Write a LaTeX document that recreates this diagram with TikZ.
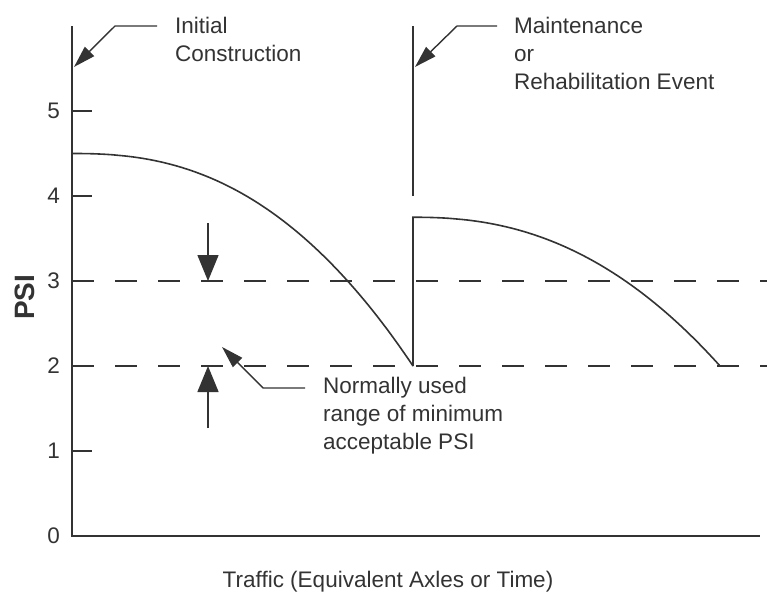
\documentclass[tikz,border=0pt]{standalone}
\usepackage{fontspec}
\setmainfont{Liberation Sans}
\usetikzlibrary{arrows.meta,positioning}
\definecolor{ink}{HTML}{333333}

\tikzset{
  psiaxis/.style={draw=ink,line width=2pt},
  psicurve/.style={draw=ink,line width=1.6pt},
  limitline/.style={draw=ink,line width=1.6pt,dash pattern=on 22pt off 21pt},
  pointer/.style={draw=ink,line width=1.4pt,-{Triangle[length=22pt,width=13pt]}},
  rangearrow/.style={draw=ink,line width=1.5pt,-{Triangle[length=26pt,width=21pt]}},
  notebox/.style={text=ink,font=\fontsize{22.5}{28}\selectfont,inner sep=0pt,align=left,anchor=north west}
}

\begin{document}
\begin{tikzpicture}[x=1pt,y=85pt]
\useasboundingbox (-72,-0.659) rectangle (695,6.306);

% axes
\draw[psiaxis] (0,6) -- (0,0) -- (688,0);
\foreach \y in {1,2,3,4,5} {
\draw[psiaxis] (0,\y) -- ++(20,0);
\node (y\y) at (-12,\y) [left,inner sep=0pt,text=ink,font=\fontsize{22.5}{28}\selectfont] {\y};
}
\node (y0) at (-12,0) [left,inner sep=0pt,text=ink,font=\fontsize{22.5}{28}\selectfont] {0};

\node (psi) at (-47,2.81) [rotate=90,text=ink,font=\fontsize{28}{32}\selectfont\bfseries] {PSI};
\node (traffic) at (316,-0.6) [anchor=base,inner sep=0pt,text=ink,font=\fontsize{22.5}{28}\selectfont] {Traffic (Equivalent Axles or Time)};

% limits
\draw[limitline] (0,3) -- (695,3);
\draw[limitline] (0,2) -- (695,2);

% serviceability curves
\draw[psicurve] (0,4.5) -- plot[domain=1:341,samples=70] (\x,{4.5-2.5*(\x/341)^2.4});
\draw[psicurve] (341,2) -- (341,3.75) -- plot[domain=1:307,samples=70] ({341+\x},{3.75-1.75*(\x/307)^2.3});
\draw[psicurve] (341,4) -- (341,6);

% labels
\coordinate (tInit) at (2,5.518);
\coordinate (tMaint) at (343,5.518);
\coordinate (tRange) at (150,2.224);
\coordinate (r3) at (136,3);
\coordinate (r2) at (136,2);

\node (lInit) at (103,6.106) [notebox] {Initial\\Construction};
\node (lMaint) at (442,6.106) [notebox] {Maintenance\\or\\Rehabilitation Event};
\node (lRange) at (251,1.871) [notebox] {Normally used\\range of minimum\\acceptable PSI};

\draw[pointer] ([xshift=-18pt,yshift=-9pt]lInit.north west) -- ++(-42,0) -- (tInit);
\draw[pointer] ([xshift=-17pt,yshift=-9pt]lMaint.north west) -- ++(-40,0) -- (tMaint);
\draw[pointer] ([xshift=-18pt,yshift=-11pt]lRange.north west) -- ++(-42,0) -- (tRange);

\draw[rangearrow] (136,3.68) -- (r3);
\draw[rangearrow] (136,1.27) -- (r2);
\end{tikzpicture}
\end{document}
